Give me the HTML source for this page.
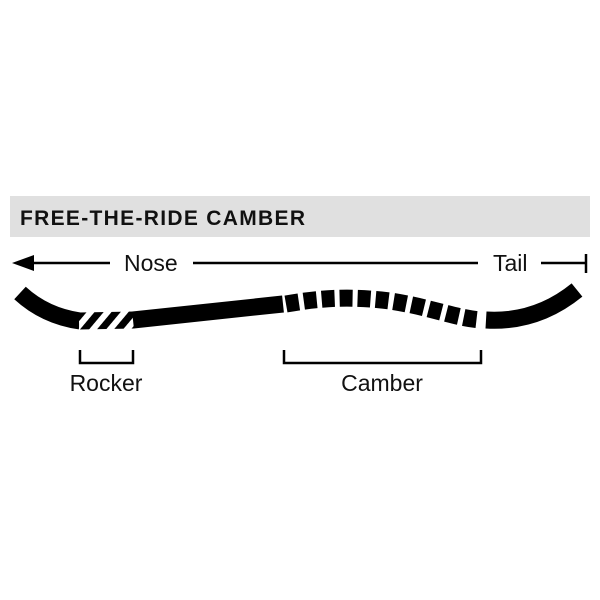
<!DOCTYPE html>
<html><head><style>body{margin:0;background:#fff}svg{display:block}</style></head><body>
<svg width="600" height="600" viewBox="0 0 600 600" xmlns="http://www.w3.org/2000/svg" font-family="Liberation Sans, sans-serif">
<defs>
<pattern id="h" patternUnits="userSpaceOnUse" width="13" height="13" patternTransform="rotate(40)">
<rect width="13" height="13" fill="#fff"/><rect width="7" height="13" fill="#000"/>
</pattern>
</defs>
<rect x="10" y="196" width="580" height="41" fill="#e0e0e0"/>
<text x="20" y="225" font-size="21" font-weight="bold" fill="#111" textLength="285" lengthAdjust="spacing">FREE-THE-RIDE CAMBER</text>
<line x1="24" y1="263" x2="110" y2="263" stroke="#000" stroke-width="2.5"/>
<polygon points="12,263 34,255 34,271" fill="#000"/>
<text x="124" y="271" font-size="23" fill="#111">Nose</text>
<line x1="193" y1="263" x2="478" y2="263" stroke="#000" stroke-width="2.5"/>
<text x="493" y="271" font-size="23" fill="#111">Tail</text>
<line x1="541" y1="263" x2="586" y2="263" stroke="#000" stroke-width="2.5"/>
<line x1="586" y1="254" x2="586" y2="273" stroke="#000" stroke-width="2.5"/>
<g fill="none" stroke-width="17">
<path d="M20,293 Q45,316 80,321" stroke="#000"/>
<path d="M79,321 L134,320" stroke="url(#h)"/>
<path d="M133,320 L283,304" stroke="#000"/>
<path d="M286,304 C320,298 350,296 390,301 C430,307 455,318 481,320" stroke="#000" stroke-dasharray="13 5"/>
<path d="M486,320 C520,322 550,312 577,290" stroke="#000"/>
</g>
<path d="M80,350 V363 H133 V350" fill="none" stroke="#000" stroke-width="2.5"/>
<path d="M284,350 V363 H481 V350" fill="none" stroke="#000" stroke-width="2.5"/>
<text x="106" y="391" font-size="23" fill="#111" text-anchor="middle">Rocker</text>
<text x="382" y="391" font-size="23" fill="#111" text-anchor="middle">Camber</text>
</svg>
</body></html>
